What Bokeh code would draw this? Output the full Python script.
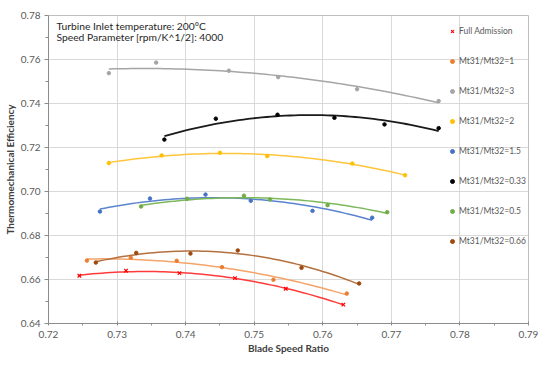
import numpy as np
from bokeh.plotting import figure
from bokeh.models import (Legend, LegendItem, Label, Range1d, FixedTicker,
                          NumeralTickFormatter)
from bokeh.embed import file_html
from bokeh.resources import INLINE

# ---------------- data ----------------
x_ticks = [0.72, 0.73, 0.74, 0.75, 0.76, 0.77, 0.78, 0.79]
x_minor = [0.725, 0.735, 0.745, 0.755, 0.765, 0.775, 0.785]
y_ticks = [0.64, 0.66, 0.68, 0.70, 0.72, 0.74, 0.76, 0.78]
y_minor = [0.65, 0.67, 0.69, 0.71, 0.73, 0.75, 0.77]

full_x = [0.7245, 0.7313, 0.7391, 0.7472, 0.7546, 0.7630]
full_y = [0.6617, 0.6640, 0.6629, 0.6606, 0.6558, 0.6486]

r1_x = [0.7256, 0.7320, 0.7387, 0.7453, 0.7528, 0.7635]
r1_y = [0.6686, 0.6699, 0.6685, 0.6656, 0.6599, 0.6536]

r3_x = [0.7288, 0.7357, 0.7463, 0.7535, 0.7650, 0.7769]
r3_y = [0.7538, 0.7586, 0.7549, 0.7520, 0.7465, 0.7411]

r2_x = [0.7288, 0.7365, 0.7450, 0.7519, 0.7643, 0.7720]
r2_y = [0.7129, 0.7164, 0.7176, 0.7161, 0.7127, 0.7074]

r15_x = [0.7275, 0.7348, 0.7429, 0.7495, 0.7585, 0.7672]
r15_y = [0.6909, 0.6968, 0.6986, 0.6958, 0.6912, 0.6881]

r033_x = [0.7369, 0.7444, 0.7534, 0.7617, 0.7690, 0.7769]
r033_y = [0.7236, 0.7331, 0.7349, 0.7335, 0.7305, 0.7288]

r05_x = [0.7335, 0.7402, 0.7485, 0.7523, 0.7607, 0.7694]
r05_y = [0.6932, 0.6967, 0.6981, 0.6964, 0.6938, 0.6906]

r066_x = [0.7269, 0.7328, 0.7407, 0.7476, 0.7569, 0.7653]
r066_y = [0.6677, 0.6721, 0.6718, 0.6732, 0.6653, 0.6582]

names = ["Full Admission", "Mt31/Mt32=1", "Mt31/Mt32=3", "Mt31/Mt32=2",
         "Mt31/Mt32=1.5", "Mt31/Mt32=0.33", "Mt31/Mt32=0.5", "Mt31/Mt32=0.66"]
xs = [full_x, r1_x, r3_x, r2_x, r15_x, r033_x, r05_x, r066_x]
ys = [full_y, r1_y, r3_y, r2_y, r15_y, r033_y, r05_y, r066_y]
colors = ["#FF0000", "#ED7D31", "#A5A5A5", "#FFC000", "#4472C4",
          "#000000", "#70AD47", "#9E480E"]
line_colors = ["#FF3B3B", "#F4A46A", "#A5A5A5", "#FFC53D", "#5B84CF",
               "#1A1A1A", "#7DB85A", "#B5703F"]
line_widths = [1.5, 1.5, 1.5, 1.5, 1.5, 1.8, 1.5, 1.5]

FONT = "Lato"

p = figure(width=550, height=365, x_range=Range1d(0.72, 0.79),
           y_range=Range1d(0.64, 0.78), output_backend="svg",
           toolbar_location=None, min_border_left=44, min_border_right=22,
           min_border_top=15, min_border_bottom=42)
p.background_fill_color = "white"
p.border_fill_color = "white"
p.outline_line_color = "#BFBFBF"

p.xaxis.ticker = FixedTicker(ticks=x_ticks, minor_ticks=x_minor)
p.yaxis.ticker = FixedTicker(ticks=y_ticks, minor_ticks=y_minor)
p.xaxis.formatter = NumeralTickFormatter(format="0.00")
p.yaxis.formatter = NumeralTickFormatter(format="0.00")
p.xgrid.grid_line_color = "#D9D9D9"
p.ygrid.grid_line_color = "#D9D9D9"

for ax in (p.xaxis, p.yaxis):
    ax.axis_line_color = "#8C8C8C"
    ax.major_tick_line_color = "#8C8C8C"
    ax.minor_tick_line_color = "#8C8C8C"
    ax.major_label_text_font = FONT
    ax.major_label_text_font_size = "10px"
    ax.major_label_text_color = "#595959"
    ax.axis_label_text_font = FONT
    ax.axis_label_text_font_size = "10px"
    ax.axis_label_text_font_style = "bold"
    ax.axis_label_text_color = "#404040"
p.xaxis.axis_label = "Blade Speed Ratio"
p.yaxis.axis_label = "Thermomechanical Efficiency"
p.xaxis.axis_label_standoff = 1
p.yaxis.axis_label_standoff = 2
p.xaxis.major_tick_in = 2
p.xaxis.major_tick_out = 2
p.xaxis.minor_tick_in = 0
p.xaxis.minor_tick_out = 2
p.xaxis.major_label_standoff = 5
p.yaxis.major_tick_in = 0
p.yaxis.major_tick_out = 4
p.yaxis.minor_tick_in = 0
p.yaxis.minor_tick_out = 3
p.yaxis.major_label_standoff = 4

items = []
for name, x, y, c, lc, lw in zip(names, xs, ys, colors, line_colors, line_widths):
    coef = np.polyfit(x, y, 2)
    fx = np.linspace(min(x), max(x), 60)
    p.line(fx, np.polyval(coef, fx), line_color=lc, line_width=lw)
    if name == "Full Admission":
        r = p.scatter(x, y, marker="x", size=5, line_color=c, line_width=1.2)
    else:
        r = p.scatter(x, y, marker="circle", size=3.5, fill_color=c, line_color=c)
    items.append(LegendItem(label=name, renderers=[r]))

legend = Legend(items=items, location=(399, 72), orientation="vertical",
                glyph_width=10, glyph_height=20, label_height=20, spacing=10,
                padding=0, margin=0, label_standoff=2,
                border_line_alpha=0, background_fill_alpha=0,
                label_text_font=FONT, label_text_font_size="8.5px",
                label_text_color="#595959")
p.add_layout(legend)

p.add_layout(Label(x=8, y=298, x_units="screen", y_units="screen",
                   text="Turbine Inlet temperature: 200°C", text_font=FONT,
                   text_font_size="10.3px", text_color="#262626",
                   text_baseline="middle"))
p.add_layout(Label(x=8, y=286.5, x_units="screen", y_units="screen",
                   text="Speed Parameter [rpm/K^1/2]: 4000", text_font=FONT,
                   text_font_size="10.3px", text_color="#262626",
                   text_baseline="middle"))

open("out.html", "w").write(file_html(p, INLINE))
